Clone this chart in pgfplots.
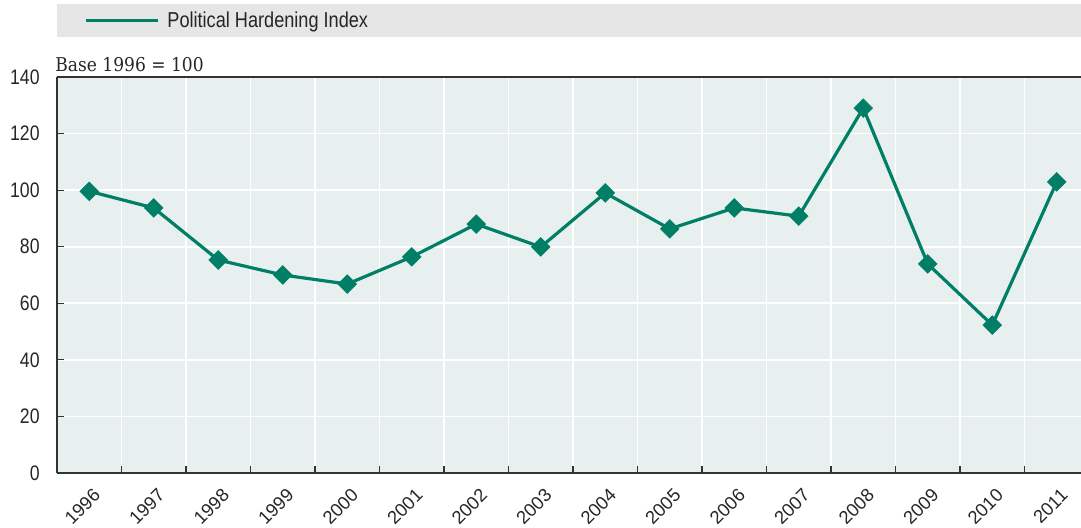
\documentclass[border=0pt]{standalone}
\usepackage{pgfplots}
\pgfplotsset{compat=1.18}
\usepackage{fontspec}
\setmainfont{Liberation Sans}
\newfontfamily\condfont{Liberation Sans}[FakeStretch=0.84]
\newfontfamily\slabfont{DejaVu Serif Condensed}
\definecolor{linegreen}{HTML}{007F66}
\definecolor{plotbg}{HTML}{E7F0EF}
\definecolor{legbg}{HTML}{E6E6E7}
\definecolor{axdark}{HTML}{333333}
\begin{document}
\begin{tikzpicture}
\useasboundingbox (-28.5pt,-27.5pt) rectangle (512pt,236.5pt);
\fill[legbg] (0pt,218pt) rectangle (520pt,234.5pt);
\begin{axis}[
  at={(0,0)}, anchor=south west,
  scale only axis, width=516pt, height=198pt,
  xmin=-0.5, xmax=15.5, ymin=0, ymax=140,
  axis background/.style={fill=plotbg},
  separate axis lines,
  axis x line=box, axis y line=left,
  x axis line style={-, draw=axdark, line width=1pt},
  y axis line style={-, draw=axdark, line width=1pt},
  xtick={0,...,15},
  xticklabels={1996,1997,1998,1999,2000,2001,2002,2003,2004,2005,2006,2007,2008,2009,2010,2011},
  minor xtick={0.5,1.5,...,14.5},
  xtick pos=bottom, ytick pos=left,
  major x tick style={draw=none},
  minor x tick style={draw=axdark, line width=0.6pt},
  minor tick length=3.5pt,
  xminorgrids=true, ymajorgrids=true,
  minor x grid style={white, line width=0.8pt},
  major y grid style={white, line width=0.8pt},
  ytick={0,20,...,140},
  major y tick style={draw=axdark, line width=0.6pt},
  major tick length=3.5pt,
  tick align=inside,
  /pgf/number format/assume math mode=true,
  yticklabel style={font=\condfont\fontsize{10.5}{12}\selectfont, text=black!85,
    anchor=east, inner sep=0pt, xshift=-8.5pt},
  xticklabel style={font=\fontsize{9.2}{11}\selectfont, text=black!85,
    inner sep=0pt, xshift=1.5pt, yshift=-7pt, rotate=45, anchor=north east},
  clip=false,
  legend style={draw=none, fill=none, at={(0,1)}, anchor=west, xshift=13.5pt, yshift=28pt,
    inner sep=0pt, font=\condfont\fontsize{10.8}{12}\selectfont, text=black!85,
    nodes={inner sep=2pt}, column sep=2pt},
  legend image code/.code={\draw[linegreen, line width=1.5pt] (0pt,0pt) -- (36pt,0pt);},
]
\addplot[linegreen, line width=1.6pt, mark=square*, mark size=3.3pt,
  mark options={rotate=45, solid, fill=linegreen, draw=linegreen, line width=0.3pt}]
  coordinates {
  (0,99.6) (1,93.7) (2,75.3) (3,70.0) (4,66.8) (5,76.4) (6,88.0) (7,79.9)
  (8,99.0) (9,86.3) (10,93.7) (11,90.8) (12,129.0) (13,73.9) (14,52.3) (15,102.9)
  };
\addlegendentry{Political Hardening Index}
\node[anchor=base west, inner sep=0pt, font=\slabfont\fontsize{9.5}{11}\selectfont, text=black!85]
  at (rel axis cs:0,1) [xshift=-1pt, yshift=2.5pt] {Base 1996 = 100};
\end{axis}
\end{tikzpicture}
\end{document}
